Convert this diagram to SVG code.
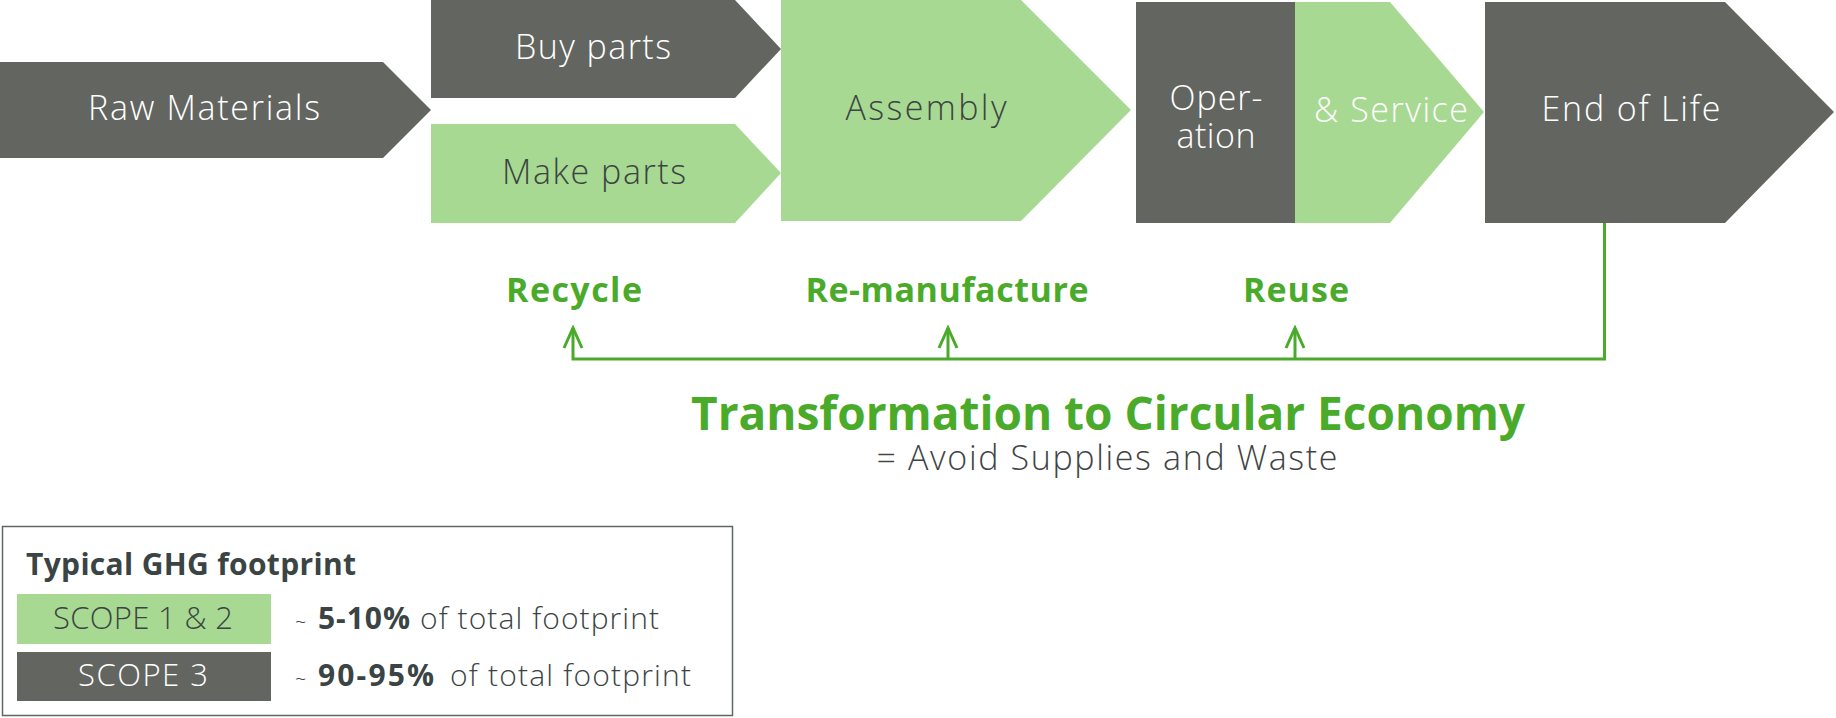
<svg xmlns="http://www.w3.org/2000/svg" width="1836" height="718" viewBox="0 0 1836 718">
<defs>
<style>
.dark{fill:#636560}
.green{fill:#a8d993}
.lt{font-family:'Open Sans','Liberation Sans',sans-serif;font-weight:300;font-size:34px}
.w{fill:#ffffff}
.d{fill:#3b4541}
.gb{font-family:'Open Sans','Liberation Sans',sans-serif;font-weight:700;fill:#4aab2a}
.conn{fill:none;stroke:#4aab2a;stroke-width:3}
</style>
<marker id="arr" viewBox="-22 -12 25 24" refX="0" refY="0" markerWidth="25" markerHeight="24" markerUnits="userSpaceOnUse" orient="auto">
<path d="M-20,-9 L0,0 L-20,9" fill="none" stroke="#4aab2a" stroke-width="3"/>
</marker>
</defs>
<rect width="1836" height="718" fill="#ffffff"/>

<g id="raw-materials">
<polygon class="dark" points="0,62 383,62 431,110 383,158 0,158"/>
<text class="lt w" x="204" y="120" text-anchor="middle" textLength="232">Raw Materials</text>
</g>
<g id="buy-parts">
<polygon class="dark" points="431,0 735,0 781,49 735,98 431,98"/>
<text class="lt w" x="593" y="59" text-anchor="middle" textLength="156">Buy parts</text>
</g>
<g id="make-parts">
<polygon class="green" points="431,124 735,124 781,173 735,223 431,223"/>
<text class="lt d" x="594" y="184" text-anchor="middle" textLength="184">Make parts</text>
</g>
<g id="assembly">
<polygon class="green" points="781,0 1021,0 1131,110 1021,221 781,221"/>
<text class="lt d" x="926" y="120" text-anchor="middle" textLength="161">Assembly</text>
</g>
<g id="operation">
<rect class="dark" x="1136" y="2" width="160" height="221"/>
<text class="lt w" x="1216" y="110" text-anchor="middle" textLength="93">Oper-</text>
<text class="lt w" x="1216" y="148" text-anchor="middle" textLength="79">ation</text>
</g>
<g id="service">
<polygon class="green" points="1295,2 1390,2 1484,112 1390,223 1295,223"/>
<text class="lt w" x="1391" y="122" text-anchor="middle" textLength="154">&amp; Service</text>
</g>
<g id="end-of-life">
<polygon class="dark" points="1485,2 1725,2 1834,112 1725,223 1485,223"/>
<text class="lt w" x="1631" y="121" text-anchor="middle" textLength="179">End of Life</text>
</g>

<g id="connectors">
<path class="conn" d="M1604.5,223 V359 H573 V328" marker-end="url(#arr)"/>
<line class="conn" x1="948" y1="359" x2="948" y2="328" marker-end="url(#arr)"/>
<line class="conn" x1="1295" y1="359" x2="1295" y2="328" marker-end="url(#arr)"/>
</g>

<g id="recycle"><text class="gb" x="574" y="302" font-size="34" text-anchor="middle" textLength="136">Recycle</text></g>
<g id="remanufacture"><text class="gb" x="947" y="302" font-size="34" text-anchor="middle" textLength="283">Re-manufacture</text></g>
<g id="reuse"><text class="gb" x="1296" y="302" font-size="34" text-anchor="middle" textLength="106">Reuse</text></g>

<g id="title">
<text class="gb" x="1108" y="430" font-size="46" text-anchor="middle" textLength="834">Transformation to Circular Economy</text>
<text class="lt" x="1107" y="470" fill="#3f4545" text-anchor="middle" textLength="461">= Avoid Supplies and Waste</text>
</g>

<g id="legend">
<rect x="2.5" y="526.5" width="730" height="189" fill="#ffffff" stroke="#5f6666" stroke-width="1.5"/>
<text x="26" y="575" font-family="'Open Sans','Liberation Sans',sans-serif" font-weight="700" font-size="30" fill="#3a4444" textLength="330">Typical GHG footprint</text>
<rect class="green" x="17" y="594" width="254" height="50"/>
<text class="d" x="143" y="629" font-family="'Open Sans','Liberation Sans',sans-serif" font-weight="300" font-size="31" text-anchor="middle" textLength="180">SCOPE 1 &amp; 2</text>
<rect class="dark" x="17" y="652" width="254" height="49"/>
<text class="w" x="143" y="686" font-family="'Open Sans','Liberation Sans',sans-serif" font-weight="300" font-size="31" text-anchor="middle" textLength="130">SCOPE 3</text>
<text font-family="'Open Sans','Liberation Sans',sans-serif" fill="#3a4444" y="629">
<tspan x="295" font-size="20" font-weight="300">~</tspan>
<tspan x="318" font-size="30" font-weight="700" textLength="92">5-10%</tspan>
<tspan x="420" font-size="30" font-weight="300" textLength="239">of total footprint</tspan>
</text>
<text font-family="'Open Sans','Liberation Sans',sans-serif" fill="#3a4444" y="686">
<tspan x="295" font-size="20" font-weight="300">~</tspan>
<tspan x="318" font-size="30" font-weight="700" textLength="116">90-95%</tspan>
<tspan x="450" font-size="30" font-weight="300" textLength="241">of total footprint</tspan>
</text>
</g>
</svg>
